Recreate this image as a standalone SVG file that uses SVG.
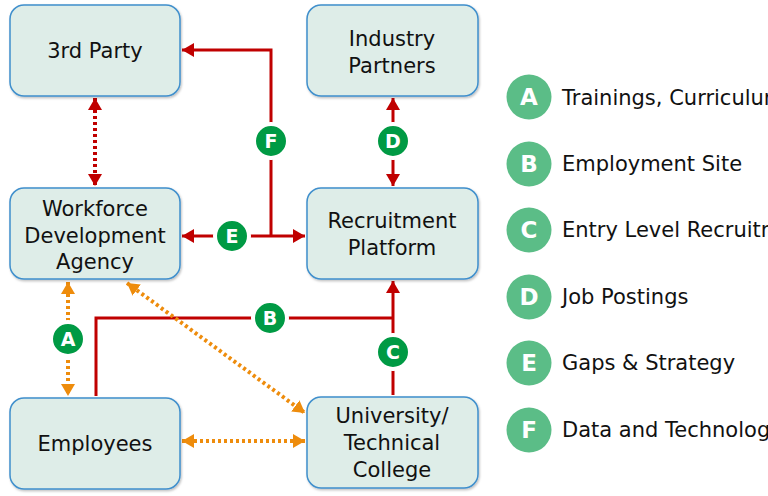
<svg xmlns="http://www.w3.org/2000/svg" width="768" height="496" viewBox="0 0 768 496">
<style>
.node rect{fill:#deede8;stroke:#3f8fcc;stroke-width:1.5;filter:url(#sh)}
.node text{font-family:"DejaVu Sans",Verdana,sans-serif;font-size:21px;fill:#111;text-anchor:middle}
.red{fill:none;stroke:#c00000;stroke-width:3}
.reddot{fill:none;stroke:#c00000;stroke-width:4;stroke-dasharray:3 3}
.org{fill:none;stroke:#ee8c0c;stroke-width:4;stroke-dasharray:3 3}
.badge circle{fill:#009a44;stroke:#fff;stroke-width:4}
.badge text,.leg text.l{font-family:"DejaVu Sans",Verdana,sans-serif;font-weight:bold;fill:#fff;text-anchor:middle}
.badge text{font-size:19px}
.leg circle{fill:#5bbd87}
.leg text.l{font-size:23px}
.leg text.t{font-family:"DejaVu Sans",Verdana,sans-serif;font-size:21px;fill:#111}
</style>
<defs>
<filter id="sh" x="-10%" y="-10%" width="130%" height="130%"><feDropShadow dx="1" dy="1.5" stdDeviation="1.2" flood-color="#000" flood-opacity="0.25"/></filter>
<marker id="ar" viewBox="0 0 12 14" refX="12" refY="7" markerWidth="12" markerHeight="14" markerUnits="userSpaceOnUse" orient="auto-start-reverse"><path d="M0,0 L12,7 L0,14 z" fill="#c00000"/></marker>
<marker id="ao" viewBox="0 0 12 14" refX="12" refY="7" markerWidth="12" markerHeight="14" markerUnits="userSpaceOnUse" orient="auto-start-reverse"><path d="M0,0 L12,7 L0,14 z" fill="#ee8c0c"/></marker>
</defs>

<g id="connectors">
<path class="reddot" d="M95,98 V186" marker-start="url(#ar)" marker-end="url(#ar)"/>
<path class="red" d="M271,236 V50 H182" marker-end="url(#ar)"/>
<path class="red" d="M182,236 H305" marker-start="url(#ar)" marker-end="url(#ar)"/>
<path class="red" d="M393,98 V186" marker-start="url(#ar)" marker-end="url(#ar)"/>
<path class="red" d="M96,396 V318 H393"/>
<path class="red" d="M393,395 V281" marker-end="url(#ar)"/>
<path class="org" d="M68,282 V396" marker-start="url(#ao)" marker-end="url(#ao)"/>
<path class="org" d="M127,283 L305,413" marker-start="url(#ao)" marker-end="url(#ao)"/>
<path class="org" d="M182,441 H305" marker-start="url(#ao)" marker-end="url(#ao)"/>
<g class="badge"><circle cx="271" cy="141" r="17"/><text x="271" y="148">F</text></g>
<g class="badge"><circle cx="393" cy="141" r="17"/><text x="393" y="148">D</text></g>
<g class="badge"><circle cx="232" cy="236" r="17"/><text x="232" y="243">E</text></g>
<g class="badge"><circle cx="270" cy="318" r="17"/><text x="270" y="325">B</text></g>
<g class="badge"><circle cx="393" cy="352" r="17"/><text x="393" y="359">C</text></g>
<g class="badge"><circle cx="68" cy="339" r="17"/><text x="68" y="346">A</text></g>
</g>

<g id="n-3rdparty" class="node"><rect x="10" y="5" width="170" height="91" rx="14"/><text x="95" y="58">3rd Party</text></g>
<g id="n-industry" class="node"><rect x="307" y="5" width="171" height="91" rx="14"/><text x="392" y="46">Industry</text><text x="392" y="73">Partners</text></g>
<g id="n-workforce" class="node"><rect x="10" y="188" width="170" height="91" rx="14"/><text x="95" y="216">Workforce</text><text x="95" y="243">Development</text><text x="95" y="269">Agency</text></g>
<g id="n-recruit" class="node"><rect x="307" y="188" width="171" height="91" rx="14"/><text x="392" y="228">Recruitment</text><text x="392" y="255">Platform</text></g>
<g id="n-employees" class="node"><rect x="10" y="398" width="170" height="91" rx="14"/><text x="95" y="451">Employees</text></g>
<g id="n-univ" class="node"><rect x="307" y="397" width="171" height="91" rx="14"/><text x="392" y="423">University/</text><text x="392" y="450">Technical</text><text x="392" y="477">College</text></g>

<g id="legend" class="leg">
<circle cx="529" cy="97" r="22.5"/><text class="l" x="529" y="105">A</text><text class="t" x="562" y="105">Trainings, Curriculum</text>
<circle cx="529" cy="164" r="22.5"/><text class="l" x="529" y="172">B</text><text class="t" x="562" y="171">Employment Site</text>
<circle cx="529" cy="230" r="22.5"/><text class="l" x="529" y="238">C</text><text class="t" x="562" y="237">Entry Level Recruitment</text>
<circle cx="529" cy="297" r="22.5"/><text class="l" x="529" y="305">D</text><text class="t" x="562" y="304">Job Postings</text>
<circle cx="529" cy="363" r="22.5"/><text class="l" x="529" y="371">E</text><text class="t" x="562" y="370">Gaps &amp; Strategy</text>
<circle cx="529" cy="430" r="22.5"/><text class="l" x="529" y="438">F</text><text class="t" x="562" y="437">Data and Technology</text>
</g>
</svg>
